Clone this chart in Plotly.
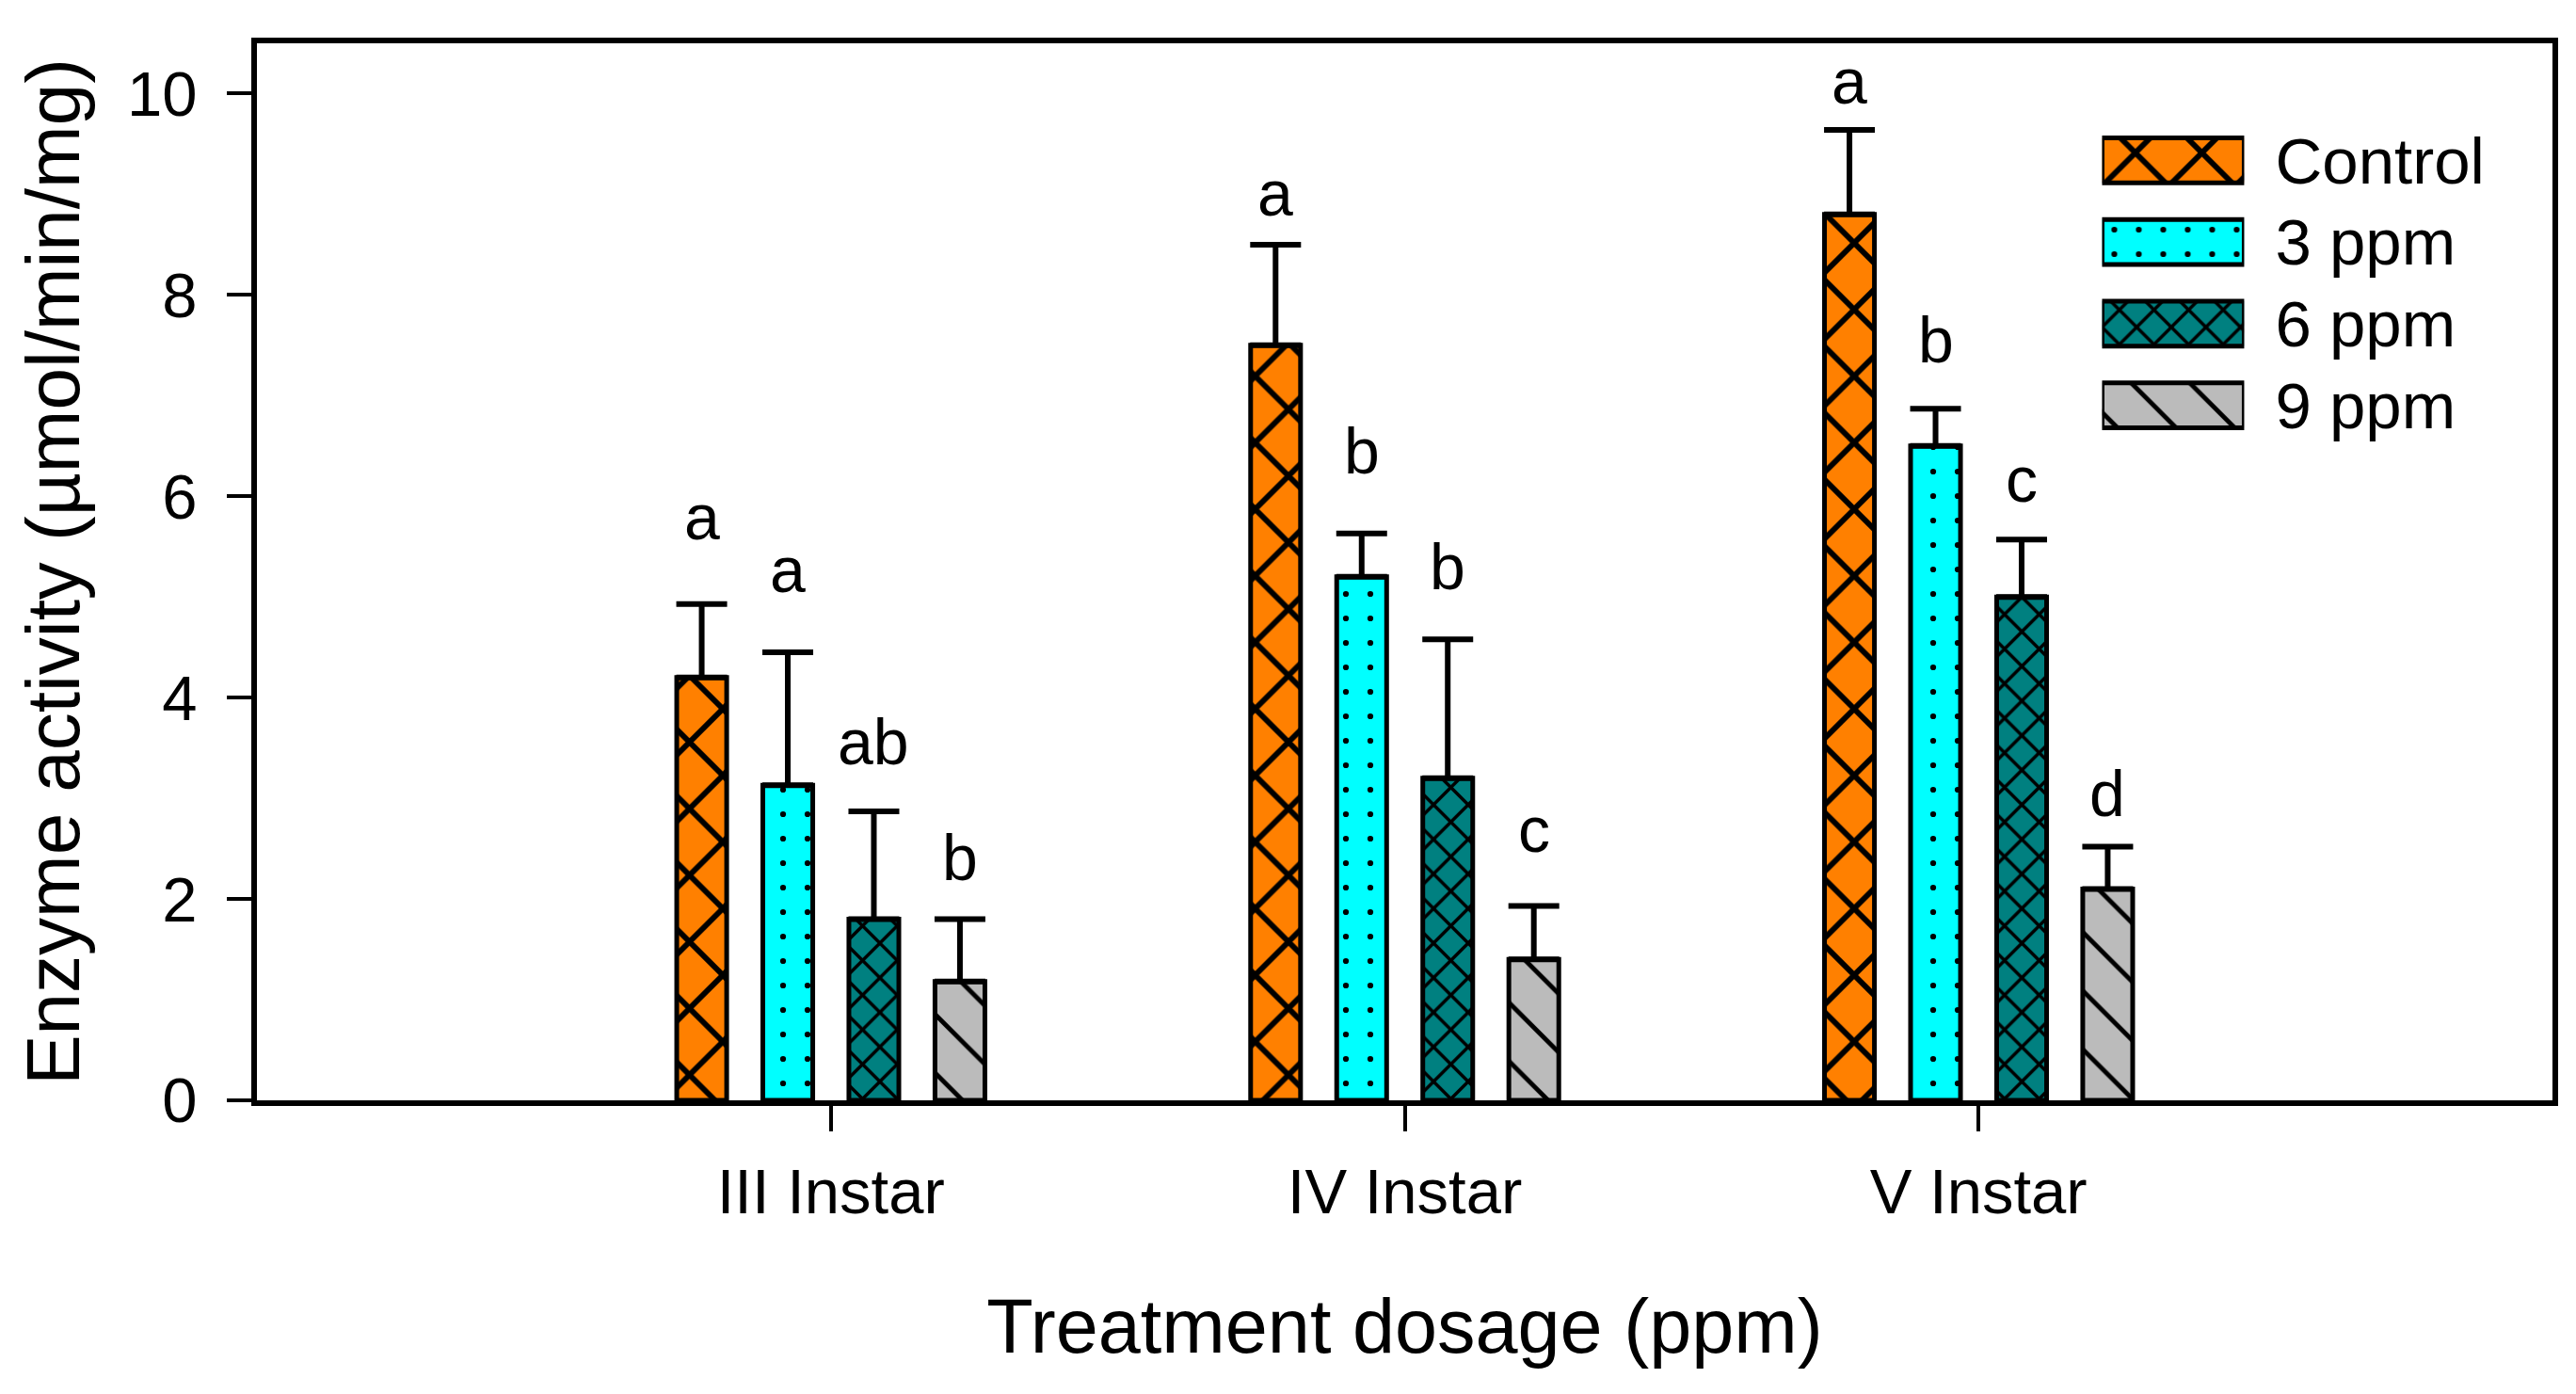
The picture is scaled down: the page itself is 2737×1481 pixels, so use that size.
import plotly.graph_objects as go

# ---- data ----
instars = ["III Instar", "IV Instar", "V Instar"]
series = ["Control", "3 ppm", "6 ppm", "9 ppm"]

control_mean = [4.2, 7.5, 8.8]
control_err = [0.73, 1.0, 0.84]
ppm3_mean = [3.13, 5.2, 6.5]
ppm3_err = [1.32, 0.43, 0.37]
ppm6_mean = [1.8, 3.2, 5.0]
ppm6_err = [1.07, 1.38, 0.57]
ppm9_mean = [1.18, 1.4, 2.1]
ppm9_err = [0.62, 0.53, 0.42]

# significance letters and the height (data units) of their baseline
control_letters = ["a", "a", "a"]
ppm3_letters = ["a", "b", "b"]
ppm6_letters = ["ab", "b", "c"]
ppm9_letters = ["b", "c", "d"]
control_letter_y = [5.56, 8.78, 9.89]
ppm3_letter_y = [5.04, 6.22, 7.32]
ppm6_letter_y = [3.33, 5.07, 5.94]
ppm9_letter_y = [2.18, 2.46, 2.81]

y_ticks = [0, 2, 4, 6, 8, 10]

# ---- styling ----
FONT = "Liberation Sans, Arial, sans-serif"
colors = ["#FF8000", "#00FFFF", "#008080", "#BBBBBB"]
shapes = ["x", ".", "x", "\\"]
sizes = [50, 26, 26, 44]
solids = [0.22, 0.045, 0.25, 0.11]
bargap = 0.4
bargroupgap = 0.42

means = [control_mean, ppm3_mean, ppm6_mean, ppm9_mean]
errs = [control_err, ppm3_err, ppm6_err, ppm9_err]
letters = [control_letters, ppm3_letters, ppm6_letters, ppm9_letters]
letter_y = [control_letter_y, ppm3_letter_y, ppm6_letter_y, ppm9_letter_y]


def hatch(i):
    return dict(
        color=colors[i],
        line=dict(color="black", width=5),
        pattern=dict(shape=shapes[i], size=sizes[i], solidity=solids[i],
                     fgcolor="black", bgcolor=colors[i], fillmode="replace"),
    )


fig = go.Figure()

for i, name in enumerate(series):
    fig.add_trace(go.Bar(
        name=name,
        x=instars,
        y=means[i],
        showlegend=False,
        marker=hatch(i),
        error_y=dict(type="data", symmetric=False, array=errs[i],
                     arrayminus=[0] * len(errs[i]),
                     color="black", thickness=6, width=27),
    ))

# letters above the error bars
slot = (1 - bargap) / len(series)
for i in range(len(series)):
    for j in range(len(instars)):
        fig.add_annotation(
            x=j + (i - (len(series) - 1) / 2) * slot,
            y=letter_y[i][j],
            xref="x", yref="y",
            text=letters[i][j],
            showarrow=False,
            yanchor="bottom",
            yshift=-15,
            font=dict(family=FONT, size=68, color="black"),
        )

# legend drawn as a small bar chart so the hatch patterns show at full size
for i, name in enumerate(series):
    fig.add_trace(go.Bar(
        x=[1],
        y=[name],
        orientation="h",
        width=0.55,
        offset=-0.275,
        xaxis="x2",
        yaxis="y2",
        showlegend=False,
        hoverinfo="skip",
        marker=hatch(i),
    ))

axis_common = dict(
    showline=True, linecolor="black", linewidth=6, mirror=True,
    ticks="outside", tickcolor="black", tickwidth=4,
    showgrid=False, zeroline=False,
    tickfont=dict(family=FONT, size=67, color="black"),
)

fig.update_layout(
    width=2721,
    height=1465,
    margin=dict(l=265, r=17, t=38, b=304, autoexpand=False),
    paper_bgcolor="white",
    plot_bgcolor="white",
    barmode="group",
    bargap=bargap,
    bargroupgap=bargroupgap,
    showlegend=False,
    font=dict(family=FONT, color="black"),
    xaxis=dict(
        **axis_common,
        type="category",
        categoryorder="array",
        categoryarray=instars,
        range=[-1, 3],
        ticklen=27,
        ticklabelstandoff=7,
        title=dict(text="Treatment dosage (ppm)",
                   font=dict(family=FONT, size=81, color="black"),
                   standoff=80),
    ),
    yaxis=dict(
        **axis_common,
        range=[0, 10.5],
        tickvals=y_ticks,
        ticklen=26,
        ticklabelstandoff=18,
        title=dict(text="Enzyme activity (µmol/min/mg)",
                   font=dict(family=FONT, size=80, color="black"),
                   standoff=26),
    ),
    xaxis2=dict(
        domain=[0.8038, 0.8657], anchor="y2", range=[0, 1],
        visible=False, fixedrange=True,
    ),
    yaxis2=dict(
        domain=[0.6189, 0.9279], anchor="x2", type="category",
        categoryorder="array", categoryarray=series,
        range=[3.5, -0.5], side="right",
        showline=False, showgrid=False, zeroline=False, ticks="",
        ticklabelstandoff=32, fixedrange=True,
        tickfont=dict(family=FONT, size=69, color="black"),
    ),
)

fig.write_html("out.html")
